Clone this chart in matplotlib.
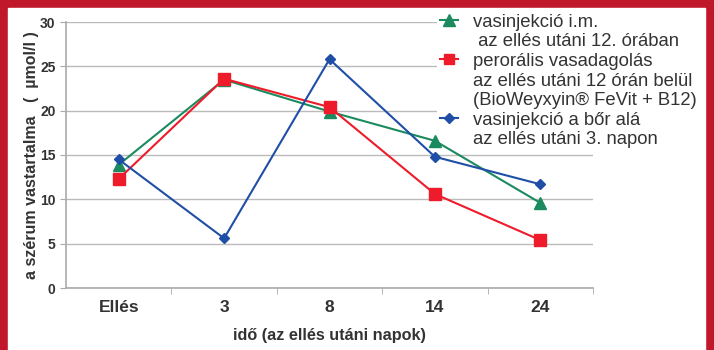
import matplotlib
matplotlib.use("Agg")
from matplotlib import pyplot as plt
from matplotlib.lines import Line2D
from matplotlib.patches import Rectangle

categories = ["Ellés", "3", "8", "14", "24"]
im_injection = [13.9, 23.5, 19.9, 16.6, 9.6]
oral_iron = [12.3, 23.6, 20.4, 10.6, 5.4]
subcut_injection = [14.5, 5.6, 25.8, 14.8, 11.7]
yticks = [0, 5, 10, 15, 20, 25, 30]

green = "#1b8a5e"
red = "#ee1c2a"
blue = "#1f4ea6"
text_col = "#333333"

plt.rcParams['font.family'] = ['Liberation Sans', 'DejaVu Sans']

fig = plt.figure(figsize=(7.14, 3.5), dpi=100)
fig.patches.append(Rectangle((0, 0), 1, 1, transform=fig.transFigure, color="#c0182a", zorder=-2))
fig.patches.append(Rectangle((8/714, 0), 697/714, 342/350, transform=fig.transFigure, color="white", zorder=-1))

ax = fig.add_axes([66/714, 62/350, 527/714, 266/350])
x = range(len(categories))
ax.plot(x, im_injection, color=green, marker="^", markersize=9, lw=1.5, zorder=3)
ax.plot(x, oral_iron, color=red, marker="s", markersize=8, lw=1.5, zorder=3)
ax.plot(x, subcut_injection, color=blue, marker="D", markersize=5, lw=1.5, zorder=3)

ax.set_xlim(-0.5, 4.5)
ax.set_ylim(0, 30)
ax.set_yticks(yticks)
ax.set_xticks(x)
ax.set_xticklabels(categories, fontweight="bold", fontsize=12.5, color=text_col)
ax.set_xticks([0.5, 1.5, 2.5, 3.5, 4.5], minor=True)
ax.tick_params(axis="x", which="major", length=0, pad=9)
ax.tick_params(axis="x", which="minor", length=4, color="#aaaaaa")
ax.tick_params(axis="y", length=4, color="#aaaaaa", labelsize=10, labelcolor=text_col)
for t in ax.get_yticklabels():
	t.set_fontweight("bold")
ax.grid(axis="y", color="#bbbbbb", lw=1)
ax.set_axisbelow(True)
for s in ["top", "right"]:
	ax.spines[s].set_visible(False)
for s in ["left", "bottom"]:
	ax.spines[s].set_color("#aaaaaa")
	ax.spines[s].set_linewidth(1.2)

ax.set_ylabel("a szérum vastartalma   (  µmol/l )", fontweight="bold", fontsize=11.5, color=text_col, labelpad=1)
ax.set_xlabel("idő (az ellés utáni napok)", fontweight="bold", fontsize=11.7, color=text_col, labelpad=9)

blank = Line2D([], [], color="none")
handles = [
	Line2D([], [], color=green, marker="^", markersize=9, lw=1.5), blank,
	Line2D([], [], color=red, marker="s", markersize=7, lw=1.5), blank, blank,
	Line2D([], [], color=blue, marker="D", markersize=5, lw=1.5), blank,
]
labels = [
	"vasinjekció i.m.", " az ellés utáni 12. órában",
	"perorális vasadagolás", "az ellés utáni 12 órán belül", "(BioWeyxyin® FeVit + B12)",
	"vasinjekció a bőr alá", "az ellés utáni 3. napon",
]
leg = ax.legend(handles, labels, loc="upper left", bbox_to_anchor=(437/714, 339/350),
	bbox_transform=fig.transFigure,
	frameon=True, fancybox=False, edgecolor="none", facecolor="white", framealpha=1,
	fontsize=13.3, handlelength=1.0, handletextpad=0.8, labelspacing=0.14,
	borderpad=0.15, borderaxespad=0)
leg.set_zorder(2)
for t in leg.get_texts():
	t.set_color(text_col)

fig.savefig("out.png", dpi=100)
